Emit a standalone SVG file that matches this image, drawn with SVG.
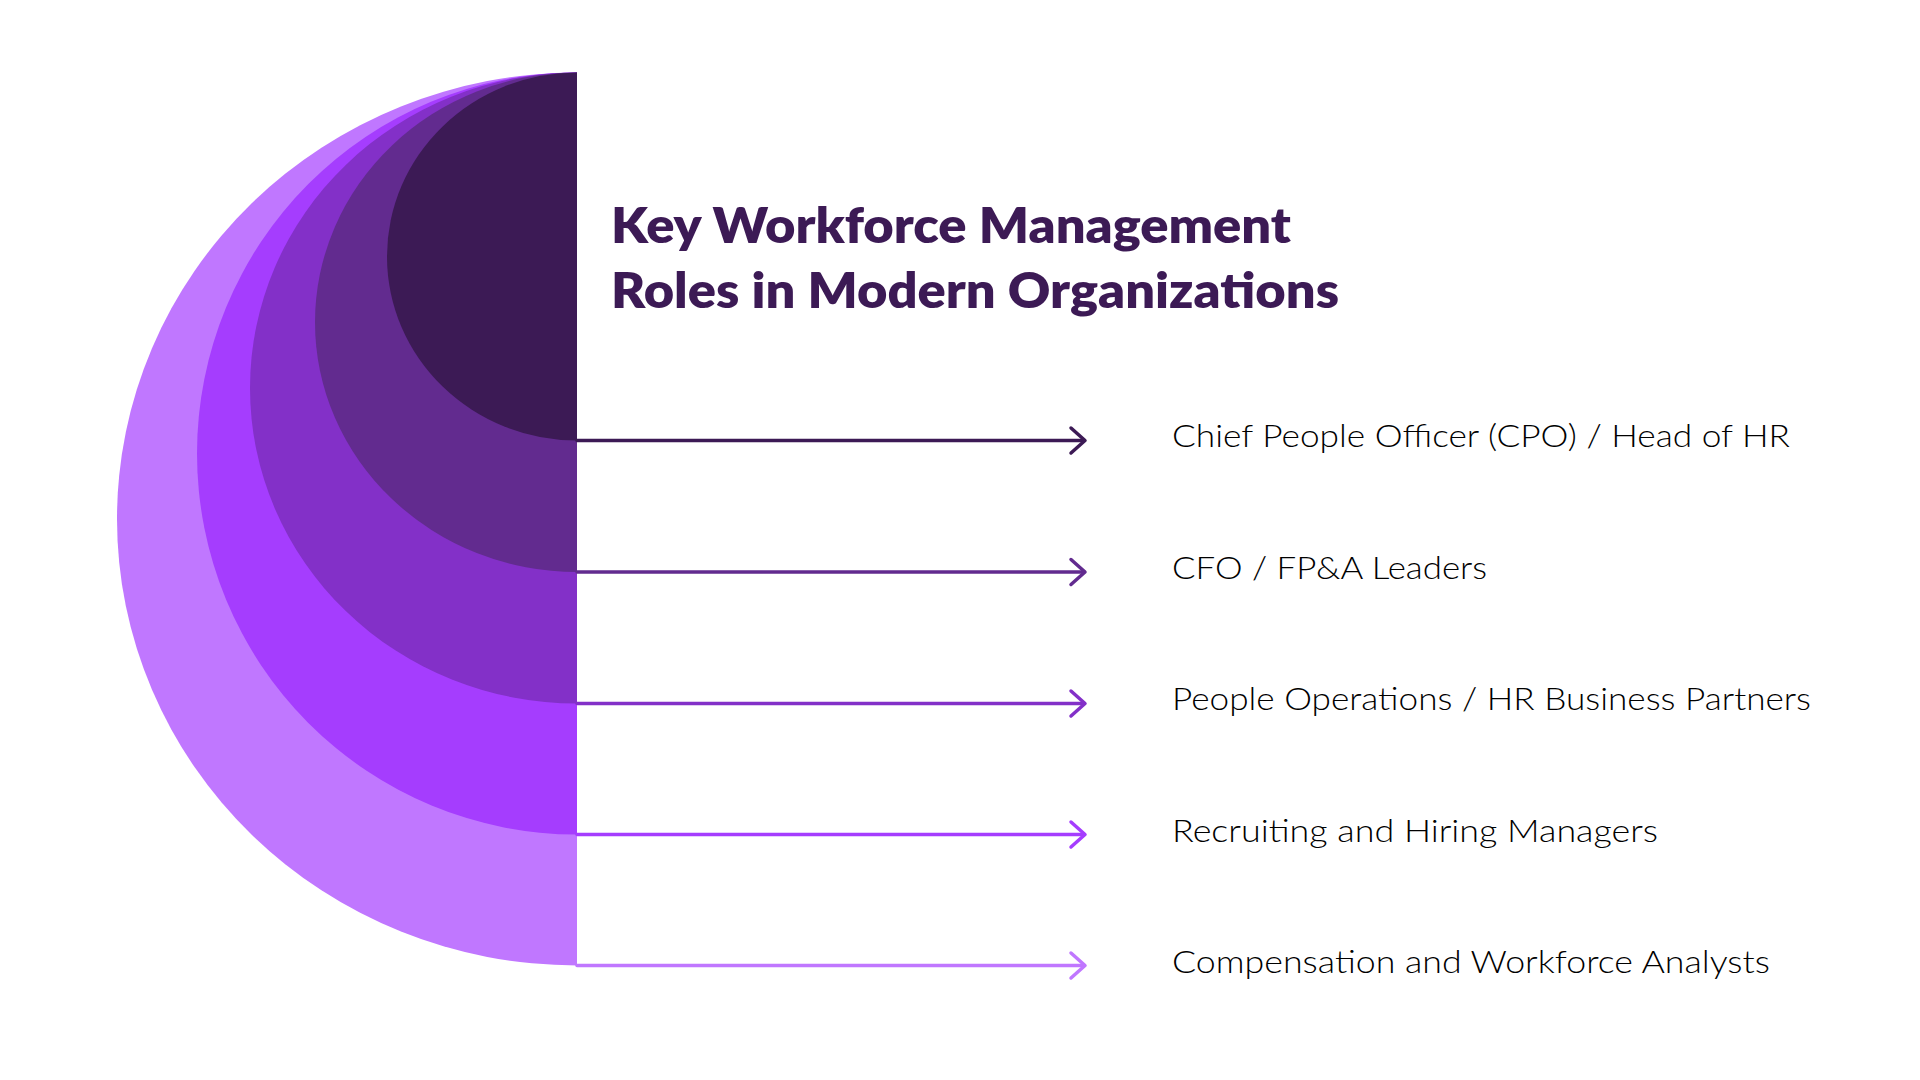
<svg xmlns="http://www.w3.org/2000/svg" width="1920" height="1080" viewBox="0 0 1920 1080">
<style>
.title{font-family:"Lato","Inter","Liberation Sans",sans-serif;font-weight:800;font-size:49px;fill:#3C1A55}
.label{font-family:"Lato","Open Sans","Liberation Sans",sans-serif;font-weight:300;font-size:31px;fill:#000000}
.conn{fill:none;stroke-width:3.5;stroke-linecap:round;stroke-linejoin:round}
</style>
<rect width="1920" height="1080" fill="#ffffff"/>
<g id="shapes">
<path id="layer5" d="M577,72.5 A460,446.5 0 0 0 577,965.5 Z" fill="#C077FF"/>
<path id="layer4" d="M577,72.5 A380,381 0 0 0 577,834.5 Z" fill="#A53DFE"/>
<path id="layer3" d="M577,72.5 A327,315.5 0 0 0 577,703.5 Z" fill="#8330C8"/>
<path id="layer2" d="M577,72.5 A262,249.75 0 0 0 577,572 Z" fill="#622B8F"/>
<path id="layer1" d="M577,72.5 A190,184 0 0 0 577,440.5 Z" fill="#3C1A55"/>
</g>
<g id="title">
<text class="title" x="611" y="243.3" textLength="680" lengthAdjust="spacingAndGlyphs">Key Workforce Management</text>
<text class="title" x="611" y="308.3" textLength="728" lengthAdjust="spacingAndGlyphs">Roles in Modern Organizations</text>
</g>
<g id="connectors">
<g stroke="#3C1A55" class="conn"><line x1="577" y1="440.5" x2="1084" y2="440.5"/><polyline points="1071,428 1085,440.5 1071,453"/></g>
<g stroke="#622B8F" class="conn"><line x1="577" y1="572" x2="1084" y2="572"/><polyline points="1071,559.5 1085,572 1071,584.5"/></g>
<g stroke="#8330C8" class="conn"><line x1="577" y1="703.5" x2="1084" y2="703.5"/><polyline points="1071,691 1085,703.5 1071,716"/></g>
<g stroke="#A53DFE" class="conn"><line x1="577" y1="834.5" x2="1084" y2="834.5"/><polyline points="1071,822 1085,834.5 1071,847"/></g>
<g stroke="#C077FF" class="conn"><line x1="577" y1="965.5" x2="1084" y2="965.5"/><polyline points="1071,953 1085,965.5 1071,978"/></g>
</g>
<g id="node1"><text class="label" x="1172" y="447" textLength="618" lengthAdjust="spacingAndGlyphs">Chief People Officer (CPO) / Head of HR</text></g>
<g id="node2"><text class="label" x="1172" y="578.5" textLength="315" lengthAdjust="spacingAndGlyphs">CFO / FP&amp;A Leaders</text></g>
<g id="node3"><text class="label" x="1172" y="710" textLength="639" lengthAdjust="spacingAndGlyphs">People Operations / HR Business Partners</text></g>
<g id="node4"><text class="label" x="1172" y="841.5" textLength="486" lengthAdjust="spacingAndGlyphs">Recruiting and Hiring Managers</text></g>
<g id="node5"><text class="label" x="1172" y="972.5" textLength="598" lengthAdjust="spacingAndGlyphs">Compensation and Workforce Analysts</text></g>
</svg>
